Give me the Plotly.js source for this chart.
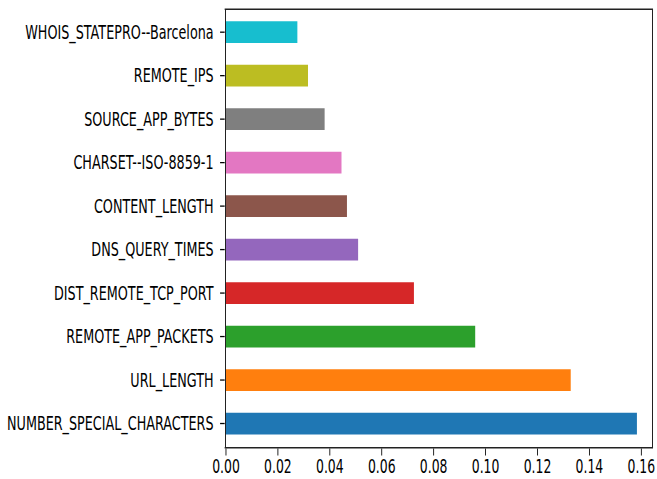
<!DOCTYPE html>
<html>
<head>
<meta charset="utf-8">
<script src="https://cdn.plot.ly/plotly-3.0.1.min.js"></script>
<style>
html, body { margin: 0; padding: 0; background: #ffffff; overflow: hidden; width: 657px; height: 479px; }
#chart { transform-origin: 0 0; }
</style>
</head>
<body>
<div id="chart"></div>
<script>
// Feature importances (bottom to top)
const categories = [
  "NUMBER_SPECIAL_CHARACTERS",
  "URL_LENGTH",
  "REMOTE_APP_PACKETS",
  "DIST_REMOTE_TCP_PORT",
  "DNS_QUERY_TIMES",
  "CONTENT_LENGTH",
  "CHARSET--ISO-8859-1",
  "SOURCE_APP_BYTES",
  "REMOTE_IPS",
  "WHOIS_STATEPRO--Barcelona"
];
const importances = [0.1583, 0.1328, 0.0960, 0.0724, 0.0509, 0.0466, 0.0445, 0.0380, 0.0316, 0.0275];
const barColors = ["#1f77b4", "#ff7f0e", "#2ca02c", "#d62728", "#9467bd",
                   "#8c564b", "#e377c2", "#7f7f7f", "#bcbd22", "#17becf"];
const xTickValues = [0, 0.02, 0.04, 0.06, 0.08, 0.10, 0.12, 0.14, 0.16];

const S = 0.655; // horizontal squeeze of the reference image
const W = 657 / S;
const H = 479;
const el = document.getElementById('chart');
el.style.width = W + 'px';
el.style.height = H + 'px';
el.style.transform = 'scaleX(' + S + ')';

const trace = {
  type: 'bar',
  orientation: 'h',
  x: importances,
  y: categories,
  width: 0.5,
  marker: { color: barColors, line: { width: 0 } },
  hoverinfo: 'skip'
};

const layout = {
  width: W,
  height: H,
  margin: { l: 226 / S, r: 5 / S, t: 10, b: 32, pad: 0 },
  paper_bgcolor: '#ffffff',
  plot_bgcolor: '#ffffff',
  showlegend: false,
  font: { family: 'DejaVu Sans, sans-serif', size: 19.5, color: '#000000' },
  xaxis: {
    range: [0, 0.164],
    tickvals: xTickValues,
    tickformat: '.2f',
    ticks: 'outside',
    ticklen: 7,
    tickwidth: 1.3,
    tickcolor: '#000000',
    ticklabelstandoff: -5,
    showline: true,
    linecolor: '#222222',
    linewidth: 1.4,
    mirror: true,
    showgrid: false,
    zeroline: false,
    tickfont: { family: 'DejaVu Sans, sans-serif', size: 19, color: '#000000' }
  },
  yaxis: {
    type: 'category',
    categoryorder: 'array',
    categoryarray: categories,
    range: [-0.54, 9.51],
    ticks: 'outside',
    ticklen: 7,
    tickwidth: 1.3,
    tickcolor: '#000000',
    ticklabelstandoff: 6,
    showline: true,
    linecolor: '#222222',
    linewidth: 2,
    mirror: true,
    showgrid: false,
    zeroline: false,
    tickfont: { family: 'DejaVu Sans, sans-serif', size: 19.5, color: '#000000' }
  }
};

Plotly.newPlot(el, [trace], layout, { displayModeBar: false, staticPlot: true });
</script>
</body>
</html>
